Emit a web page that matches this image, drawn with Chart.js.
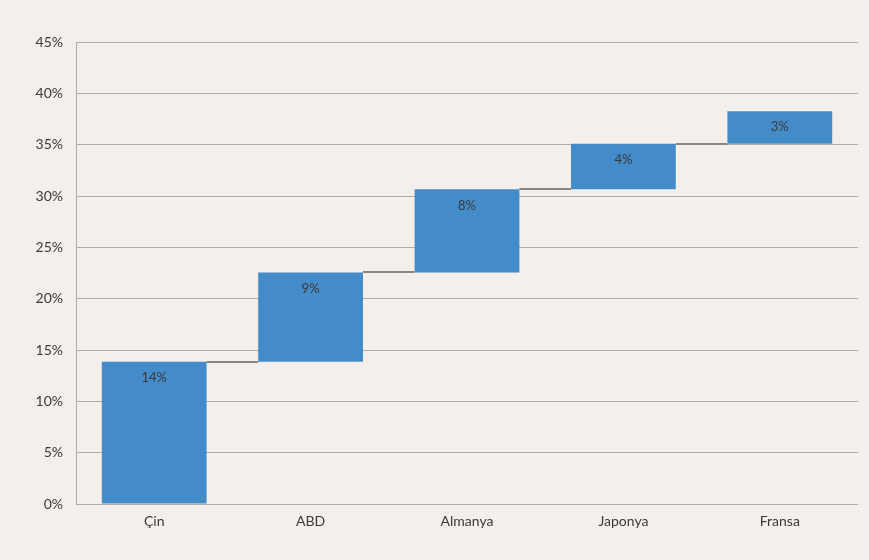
<!DOCTYPE html>
<html>
<head>
<meta charset="utf-8">
<script src="https://cdn.jsdelivr.net/npm/chart.js@4/dist/chart.umd.min.js"></script>
<style>
  html, body { margin: 0; padding: 0; background: #f4efeb; }
  #wrap { width: 869px; height: 560px; }
</style>
</head>
<body>
<div id="wrap"><canvas id="waterfallChart" width="869" height="560"></canvas></div>
<script>
// Waterfall data (percent shares)
const categories = ["Çin", "ABD", "Almanya", "Japonya", "Fransa"];
const barStarts = [0, 13.85, 22.55, 30.65, 35.1];
const barEnds = [13.85, 22.55, 30.65, 35.1, 38.25];
const barLabels = ["14%", "9%", "8%", "4%", "3%"];
const yTicks = [0, 5, 10, 15, 20, 25, 30, 35, 40, 45];

const colors = {
  bar: "#448bc9",
  grid: "#ababab",
  connector: "#8a8584",
  text: "#3a3a3a",
};

const fontFamily = "Lato, 'Open Sans', sans-serif";

// connector lines + value labels drawn after bars
const waterfallExtras = {
  id: "waterfallExtras",
  afterDatasetsDraw(chart) {
    const ctx = chart.ctx;
    const yScale = chart.scales.y;
    const bars = chart.getDatasetMeta(0).data;

    ctx.save();
    ctx.strokeStyle = colors.connector;
    ctx.lineWidth = 2;
    for (let i = 0; i < bars.length - 1; i++) {
      const y = Math.round(yScale.getPixelForValue(barEnds[i]));
      const x1 = bars[i].x + bars[i].width / 2;
      const x2 = bars[i + 1].x - bars[i + 1].width / 2;
      ctx.beginPath();
      ctx.moveTo(x1, y);
      ctx.lineTo(x2, y);
      ctx.stroke();
    }

    ctx.fillStyle = colors.text;
    ctx.font = "13px " + fontFamily;
    ctx.textAlign = "center";
    ctx.textBaseline = "middle";
    bars.forEach((bar, i) => {
      const top = yScale.getPixelForValue(barEnds[i]);
      ctx.fillText(barLabels[i], bar.x, top + 16);
    });
    ctx.restore();
  },
};

new Chart(document.getElementById("waterfallChart"), {
  type: "bar",
  data: {
    labels: categories,
    datasets: [
      {
        data: categories.map((c, i) => [barStarts[i], barEnds[i]]),
        backgroundColor: colors.bar,
        borderWidth: 0,
        categoryPercentage: 0.67,
        barPercentage: 1,
      },
    ],
  },
  options: {
    responsive: false,
    animation: false,
    layout: { padding: { top: 42, right: 11, bottom: 0, left: 0 } },
    plugins: {
      legend: { display: false },
      tooltip: { enabled: false },
    },
    scales: {
      x: {
        grid: { display: false },
        border: { display: false },
        ticks: {
          color: colors.text,
          font: { family: fontFamily, size: 14 },
          padding: 1,
        },
        afterFit(scale) {
          scale.height = 56;
        },
      },
      y: {
        min: 0,
        max: 45,
        afterBuildTicks(scale) {
          scale.ticks = yTicks.map((v) => ({ value: v }));
        },
        grid: { color: colors.grid, lineWidth: 1, drawTicks: false },
        border: { display: true, color: colors.grid, width: 1 },
        ticks: {
          color: colors.text,
          font: { family: fontFamily, size: 14 },
          padding: 13,
          callback: (v) => v + "%",
        },
        afterFit(scale) {
          scale.width = 76;
        },
      },
    },
  },
  plugins: [waterfallExtras],
});
</script>
</body>
</html>
